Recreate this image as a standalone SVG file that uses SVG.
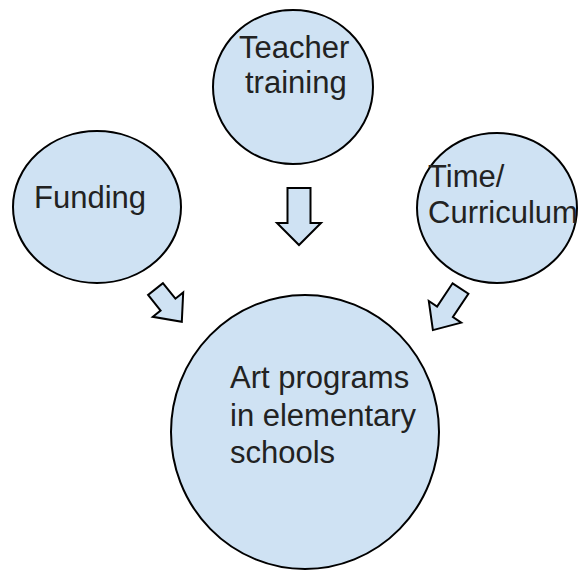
<svg xmlns="http://www.w3.org/2000/svg" width="578" height="573" viewBox="0 0 578 573">
  <style>
    .node { fill: #cfe2f3; stroke: #000; stroke-width: 2; }
    .arrow { fill: #cfe2f3; stroke: #000; stroke-width: 2; stroke-linejoin: miter; }
    .label { font-family: "Liberation Sans", Arial, sans-serif; font-size: 31px; fill: #222; }
  </style>
  <rect width="578" height="573" fill="#fff"/>

  <!-- block arrows -->
  <g id="connectors">
    <polygon class="arrow" points="287.5,188 310.5,188 310.5,223 321,223 299,245 277,223 287.5,223"/>
    <polygon class="arrow" points="162.9,283.1 175.4,298.7 183.2,292.4 181.8,321.8 152.8,316.8 160.6,310.5 148.1,294.9"/>
    <polygon class="arrow" points="452.6,283.3 468.4,293.7 452.9,317.0 461.2,322.6 432.9,330.1 428.8,301.0 437.1,306.6"/>
  </g>

  <g id="teacher-training">
    <ellipse class="node" cx="293" cy="87" rx="80" ry="77"/>
    <text class="label" x="239" y="58">Teacher</text>
    <text class="label" x="245" y="93">training</text>
  </g>

  <g id="funding">
    <ellipse class="node" cx="97" cy="207" rx="84" ry="76"/>
    <text class="label" x="34" y="208">Funding</text>
  </g>

  <g id="time-curriculum">
    <ellipse class="node" cx="497" cy="208" rx="80" ry="75"/>
    <text class="label" x="428" y="187">Time/</text>
    <text class="label" x="428" y="223">Curriculum</text>
  </g>

  <g id="art-programs">
    <ellipse class="node" cx="305" cy="432" rx="134" ry="137"/>
    <text class="label" x="230" y="388">Art programs</text>
    <text class="label" x="230" y="426">in elementary</text>
    <text class="label" x="230" y="463">schools</text>
  </g>
</svg>
